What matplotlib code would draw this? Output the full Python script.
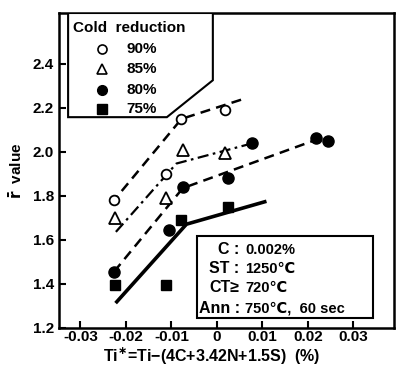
import matplotlib.pyplot as plt
from matplotlib.patches import Polygon, Rectangle

plt.rcParams['font.family'] = ['Liberation Sans', 'DejaVu Sans']
plt.rcParams['font.weight'] = 'bold'

# measured points
x90 = [-0.0226, -0.0111, -0.0078, 0.0018]
y90 = [1.78, 1.90, 2.15, 2.19]
x85 = [-0.0224, -0.0111, -0.0075, 0.0018]
y85 = [1.70, 1.79, 2.01, 1.995]
x80 = [-0.0226, -0.0105, -0.0074, 0.0025, 0.0076, 0.0218, 0.0245]
y80 = [1.455, 1.645, 1.84, 1.88, 2.04, 2.065, 2.048]
x75 = [-0.0224, -0.0111, -0.0078, 0.0025]
y75 = [1.395, 1.395, 1.69, 1.75]

# trend lines (drawn by hand in the original)
lx90 = [-0.0232, -0.0078, 0.0057]
ly90 = [1.765, 2.15, 2.24]
lx85 = [-0.0222, -0.0089, 0.0076]
ly85 = [1.636, 1.947, 2.038]
lx80 = [-0.0226, -0.0075, 0.0215]
ly80 = [1.455, 1.835, 2.053]
lx75 = [-0.022, -0.0067, 0.0105]
ly75 = [1.318, 1.671, 1.773]

fig = plt.figure(figsize=(3.99, 3.65), dpi=100)
ax = fig.add_axes([59/399, 1 - 327.7/365, (394-59)/399, (327.7-13)/365])

ax.plot(lx90, ly90, color='black', lw=1.8, ls=(0, (4, 2.5)))
ax.plot(lx85, ly85, color='black', lw=1.6, ls=(0, (5, 2, 1.2, 2)))
ax.plot(lx80, ly80, color='black', lw=1.8, ls=(0, (4, 2.5)))
ax.plot(lx75, ly75, color='black', lw=2.6, ls='-')

ms = 7
ax.plot(x90, y90, 'o', ms=ms, mfc='white', mec='black', mew=1.3, ls='none', zorder=5)
ax.plot(x85, y85, '^', ms=ms+1, mfc='white', mec='black', mew=1.3, ls='none', zorder=5)
ax.plot(x80, y80, 'o', ms=ms+1, mfc='black', mec='black', ls='none', zorder=5)
ax.plot(x75, y75, 's', ms=ms, mfc='black', mec='black', ls='none', zorder=5)

ax.set_xlim(-0.0347, 0.0389)
ax.set_ylim(1.2, 2.632)
ax.set_xticks([-0.03, -0.02, -0.01, 0, 0.01, 0.02, 0.03])
ax.set_xticklabels(['-0.03', '-0.02', '-0.01', '0', '0.01', '0.02', '0.03'])
ax.set_yticks([1.2, 1.4, 1.6, 1.8, 2.0, 2.2, 2.4])
ax.set_yticklabels(['1.2', '1.4', '1.6', '1.8', '2.0', '2.2', '2.4'])
ax.tick_params(direction='in', length=5, width=1.5, labelsize=11)
ax.tick_params(axis='x', pad=2)
for s in ax.spines.values():
    s.set_linewidth(1.8)

# legend box with cut corner
poly = Polygon([[-0.0327, 2.632], [-0.0009, 2.632], [-0.0009, 2.326],
                [-0.011, 2.158], [-0.0327, 2.158]], closed=True,
               fc='white', ec='black', lw=1.5, zorder=6)
ax.add_patch(poly)
ax.text(-0.0316, 2.565, 'Cold  reduction', fontsize=11, fontweight='bold',
        va='center', ha='left', zorder=7)
leg_labels = ['90%', '85%', '80%', '75%']
leg_y = [2.47, 2.375, 2.28, 2.195]
ax.plot([-0.0253], [leg_y[0]], 'o', ms=6.5, mfc='white', mec='black', mew=1.2, zorder=7)
ax.plot([-0.0253], [leg_y[1]], '^', ms=7, mfc='white', mec='black', mew=1.2, zorder=7)
ax.plot([-0.0253], [leg_y[2]], 'o', ms=7, mfc='black', mec='black', zorder=7)
ax.plot([-0.0253], [leg_y[3]], 's', ms=6.5, mfc='black', mec='black', zorder=7)
for lab, yy in zip(leg_labels, leg_y):
    ax.text(-0.0198, yy, lab, fontsize=11, fontweight='bold', va='center',
            ha='left', zorder=7)

# conditions box
ax.add_patch(Rectangle((-0.0044, 1.246), 0.0387, 0.373, fc='white', ec='black',
                       lw=1.5, zorder=6))
cond = [('C :', '0.002%', 1.555), ('ST :', '1250℃', 1.468),
        ('CT≥', '720℃', 1.382), ('Ann :', '750℃,  60 sec', 1.287)]
for lab, val, yy in cond:
    ax.text(0.0050, yy, lab, fontsize=11.5, fontweight='bold', ha='right',
            va='center', zorder=7)
    ax.text(0.0062, yy, val, fontsize=10.5, fontweight='bold', ha='left',
            va='center', zorder=7)

ax.set_ylabel(r'$\mathbf{\bar{r}}$  value', fontsize=11, fontweight='bold', labelpad=6)
fig.text(212/399, 1 - 355/365, r'Ti$^{\ast}$=Ti−(4C+3.42N+1.5S)  (%)',
         fontsize=11.5, fontweight='bold', ha='center', va='center')

fig.savefig('out.png', dpi=100)
